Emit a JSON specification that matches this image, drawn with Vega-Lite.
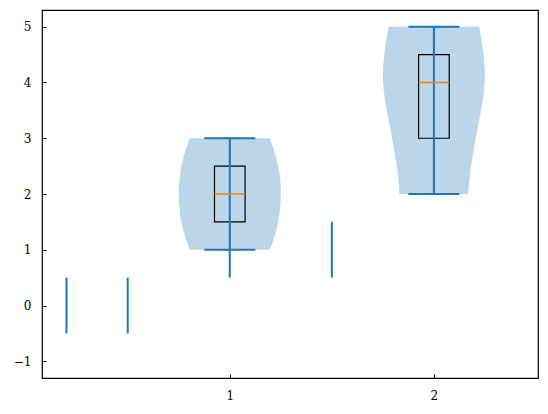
{
  "$schema": "https://vega.github.io/schema/vega-lite/v6.json",
  "width": 496, "height": 368,
  "autosize": "none",
  "padding": {"left": 42, "top": 10, "right": 10, "bottom": 36},
  "background": "white",
  "datasets": {
    "violin": [
      {"v": 1, "y": 1, "lo": 0.804, "hi": 1.196},
      {"v": 1, "y": 1.25, "lo": 0.780, "hi": 1.220},
      {"v": 1, "y": 1.5, "lo": 0.763, "hi": 1.237},
      {"v": 1, "y": 1.75, "lo": 0.753, "hi": 1.247},
      {"v": 1, "y": 2, "lo": 0.750, "hi": 1.250},
      {"v": 1, "y": 2.25, "lo": 0.753, "hi": 1.247},
      {"v": 1, "y": 2.5, "lo": 0.763, "hi": 1.237},
      {"v": 1, "y": 2.75, "lo": 0.780, "hi": 1.220},
      {"v": 1, "y": 3, "lo": 0.804, "hi": 1.196},
      {"v": 2, "y": 2, "lo": 1.831, "hi": 2.169},
      {"v": 2, "y": 2.25, "lo": 1.826, "hi": 2.174},
      {"v": 2, "y": 2.5, "lo": 1.818, "hi": 2.182},
      {"v": 2, "y": 2.75, "lo": 1.807, "hi": 2.193},
      {"v": 2, "y": 3, "lo": 1.795, "hi": 2.205},
      {"v": 2, "y": 3.25, "lo": 1.782, "hi": 2.218},
      {"v": 2, "y": 3.5, "lo": 1.769, "hi": 2.231},
      {"v": 2, "y": 3.75, "lo": 1.758, "hi": 2.242},
      {"v": 2, "y": 4, "lo": 1.751, "hi": 2.249},
      {"v": 2, "y": 4.25, "lo": 1.751, "hi": 2.249},
      {"v": 2, "y": 4.5, "lo": 1.757, "hi": 2.243},
      {"v": 2, "y": 4.75, "lo": 1.766, "hi": 2.234},
      {"v": 2, "y": 5, "lo": 1.778, "hi": 2.222}
    ],
    "boxes": [
      {"x0": 0.925, "x1": 1.075, "q1": 1.5, "q3": 2.5, "med": 2},
      {"x0": 1.925, "x1": 2.075, "q1": 3, "q3": 4.5, "med": 4}
    ],
    "whiskers": [
      {"x": 1, "y": 1, "y2": 1.5},
      {"x": 1, "y": 2.5, "y2": 3},
      {"x": 2, "y": 2, "y2": 3},
      {"x": 2, "y": 4.5, "y2": 5}
    ],
    "boxcaps": [
      {"x": 0.9625, "x2": 1.0375, "y": 1},
      {"x": 0.9625, "x2": 1.0375, "y": 3},
      {"x": 1.9625, "x2": 2.0375, "y": 2},
      {"x": 1.9625, "x2": 2.0375, "y": 5}
    ],
    "vlines": [
      {"x": 0.2, "y": -0.5, "y2": 0.5},
      {"x": 0.5, "y": -0.5, "y2": 0.5},
      {"x": 1, "y": 0.5, "y2": 3},
      {"x": 1.5, "y": 0.5, "y2": 1.5},
      {"x": 2, "y": 2, "y2": 5}
    ],
    "caps": [
      {"x": 0.875, "x2": 1.125, "y": 1},
      {"x": 0.875, "x2": 1.125, "y": 3},
      {"x": 1.875, "x2": 2.125, "y": 2},
      {"x": 1.875, "x2": 2.125, "y": 5}
    ]
  },
  "layer": [
    {
      "data": {"name": "whiskers"},
      "mark": {"type": "rule", "color": "black", "strokeWidth": 1},
      "encoding": {
        "x": {"field": "x", "type": "quantitative",
          "scale": {"domain": [0.08, 2.51], "nice": false, "zero": false},
          "axis": {"values": [1, 2], "format": "d", "title": null, "grid": false, "domain": false, "tickSize": -4, "tickColor": "black", "labelPadding": 16, "labelColor": "black", "labelFont": "DejaVu Serif", "labelFontSize": 12}},
        "y": {"field": "y", "type": "quantitative",
          "scale": {"domain": [-1.3, 5.3], "nice": false, "zero": false},
          "axis": {"values": [-1, 0, 1, 2, 3, 4, 5], "format": "d", "title": null, "grid": false, "domain": false, "tickSize": -4, "tickColor": "black", "labelPadding": 15, "labelColor": "black", "labelFont": "DejaVu Serif", "labelFontSize": 12}},
        "y2": {"field": "y2"}
      }
    },
    {
      "data": {"name": "boxcaps"},
      "mark": {"type": "rule", "color": "black", "strokeWidth": 1},
      "encoding": {
        "x": {"field": "x", "type": "quantitative"},
        "x2": {"field": "x2"},
        "y": {"field": "y", "type": "quantitative"}
      }
    },
    {
      "data": {"name": "violin"},
      "mark": {"type": "area", "orient": "horizontal", "interpolate": "natural", "color": "#1f77b4", "opacity": 0.3},
      "encoding": {
        "y": {"field": "y", "type": "quantitative"},
        "x": {"field": "lo", "type": "quantitative"},
        "x2": {"field": "hi"},
        "detail": {"field": "v", "type": "nominal"}
      }
    },
    {
      "data": {"name": "boxes"},
      "mark": {"type": "rect", "fill": null, "stroke": "black", "strokeWidth": 1.2},
      "encoding": {
        "x": {"field": "x0", "type": "quantitative"},
        "x2": {"field": "x1"},
        "y": {"field": "q1", "type": "quantitative"},
        "y2": {"field": "q3"}
      }
    },
    {
      "data": {"name": "vlines"},
      "mark": {"type": "rule", "color": "#1f77b4", "strokeWidth": 2},
      "encoding": {
        "x": {"field": "x", "type": "quantitative"},
        "y": {"field": "y", "type": "quantitative"},
        "y2": {"field": "y2"}
      }
    },
    {
      "data": {"name": "caps"},
      "mark": {"type": "rule", "color": "#1f77b4", "strokeWidth": 2},
      "encoding": {
        "x": {"field": "x", "type": "quantitative"},
        "x2": {"field": "x2"},
        "y": {"field": "y", "type": "quantitative"}
      }
    },
    {
      "data": {"name": "boxes"},
      "mark": {"type": "rule", "color": "#ff7f0e", "strokeWidth": 1.5},
      "encoding": {
        "x": {"field": "x0", "type": "quantitative"},
        "x2": {"field": "x1"},
        "y": {"field": "med", "type": "quantitative"}
      }
    }
  ],
  "config": {
    "view": {"stroke": "black", "strokeWidth": 1.2}
  }
}
